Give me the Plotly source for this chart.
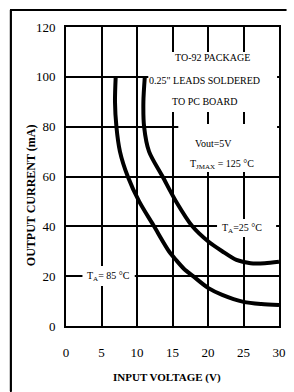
import base64
import plotly.graph_objects as go

# ---- data ----
v_25 = [11.1, 10.9, 11.0, 11.7, 13.6, 15.5, 17.8, 20.0, 22.0, 24.0, 26.0, 28.0, 30.0]
i_25 = [100, 90, 80, 70, 60, 50, 40, 34, 30, 26.5, 25.2, 25.2, 25.8]

v_85 = [7.0, 6.9, 7.1, 7.6, 8.7, 10.3, 12.4, 14.5, 15.5, 16.6, 17.9, 20.0, 22.0, 25.0, 27.5, 30.0]
i_85 = [100, 90, 80, 70, 60, 50, 40, 30, 26.5, 23.0, 20.0, 15.3, 12.5, 9.7, 8.8, 8.4]

x_ticks = [0, 5, 10, 15, 20, 25, 30]
y_ticks = [0, 20, 40, 60, 80, 100, 120]

SERIF = "Liberation Serif, Times New Roman, serif"

fig = go.Figure()
for vx, iy in ((v_25, i_25), (v_85, i_85)):
    fig.add_trace(go.Scatter(x=vx, y=iy, mode="lines",
                             line=dict(color="black", width=4, shape="spline", smoothing=0.8),
                             hoverinfo="skip", showlegend=False))

# plot-area geometry in pixels (for placing decorations)
L, R, T, B = 66, 286, 27, 326
W, H = 294, 392
def px2x(px):
    return (px - L) / (R - L) * 30
def py2y(py):
    return (B - py) / (B - T) * 120
def pxp(px):
    return (px - L) / (R - L)
def pyp(py):
    return (B - py) / (B - T)

shapes = []
# outer frame (only top and left edges are visible in the picture)
shapes.append(dict(type="line", xref="paper", yref="paper",
                   x0=pxp(9), x1=pxp(W - 1), y0=pyp(10), y1=pyp(10),
                   line=dict(color="black", width=2), layer="above"))
shapes.append(dict(type="line", xref="paper", yref="paper",
                   x0=pxp(9), x1=pxp(9), y0=pyp(10), y1=pyp(H - 1),
                   line=dict(color="black", width=2), layer="above"))
# white label boxes hiding the grid
for (x0, x1, y0, y1) in [(151, 284, 52, 112), (182, 284, 124, 172),
                         (222, 283, 219, 237), (83, 137, 266, 286)]:
    shapes.append(dict(type="rect", xref="x", yref="y",
                       x0=px2x(x0), x1=px2x(x1), y0=py2y(y1), y1=py2y(y0),
                       line=dict(width=0), fillcolor="white", layer="above"))

# frame also as a small svg overlay image (top + left edges)
fw, fh = W - 8, H - 9
frame_svg = (f"<svg xmlns='http://www.w3.org/2000/svg' width='{fw}' height='{fh}' "
             f"viewBox='0 0 {fw} {fh}'><path d='M1 {fh} V1 H{fw}' stroke='black' "
             f"stroke-width='2' fill='none'/></svg>")
frame_src = "data:image/svg+xml;base64," + base64.b64encode(frame_svg.encode()).decode()
images = [dict(source=frame_src, xref="paper", yref="paper",
               x=pxp(8), y=pyp(9), sizex=pxp(W) - pxp(8), sizey=pyp(9) - pyp(H),
               xanchor="left", yanchor="top", sizing="stretch", layer="above")]

ann = []
def txt(s, px, py, size=10):
    ann.append(dict(text=s, x=px2x(px), y=py2y(py), xref="x", yref="y",
                    showarrow=False, xanchor="center", yanchor="middle",
                    font=dict(family=SERIF, size=size, color="black")))

txt("TO-92 PACKAGE", 217, 57)
txt("0.25\" LEADS SOLDERED", 209, 80)
txt("TO PC BOARD", 209, 101)
txt("Vout=5V", 218, 143)
txt("T<sub>JMAX</sub> = 125 °C", 227, 164)
txt("T<sub>A</sub>=25 °C", 248, 228)
txt("T<sub>A</sub>= 85 °C", 110, 276)

# axis titles
ann.append(dict(text="<b>INPUT VOLTAGE (V)</b>", xref="paper", yref="paper",
                x=pxp(170), y=pyp(378), showarrow=False,
                xanchor="center", yanchor="middle",
                font=dict(family=SERIF, size=11, color="black")))
ann.append(dict(text="<b>OUTPUT CURRENT (mA)</b>", xref="paper", yref="paper",
                x=pxp(30), y=pyp(195), showarrow=False,
                xanchor="center", yanchor="middle", textangle=-90,
                font=dict(family=SERIF, size=12, color="black")))

axis_common = dict(showgrid=True, gridcolor="black", gridwidth=2, zeroline=False,
                   showline=True, linecolor="black", linewidth=2, mirror=True,
                   ticks="", tickfont=dict(family=SERIF, size=13, color="black"))

fig.update_layout(
    width=W, height=H,
    margin=dict(l=L, r=W - R, t=T, b=H - B),
    paper_bgcolor="white", plot_bgcolor="white",
    xaxis=dict(range=[0, 30], tickvals=x_ticks, ticktext=[str(v) for v in x_ticks],
               ticklabelstandoff=13, **axis_common),
    yaxis=dict(range=[0, 120], tickvals=y_ticks, ticktext=[str(v) for v in y_ticks],
               ticklabelstandoff=6, **axis_common),
    shapes=shapes, annotations=ann, images=images, showlegend=False,
)

fig.write_html("out.html", config={"displayModeBar": False},
               post_script="document.body.style.margin='0px';document.body.style.overflow='hidden';")
